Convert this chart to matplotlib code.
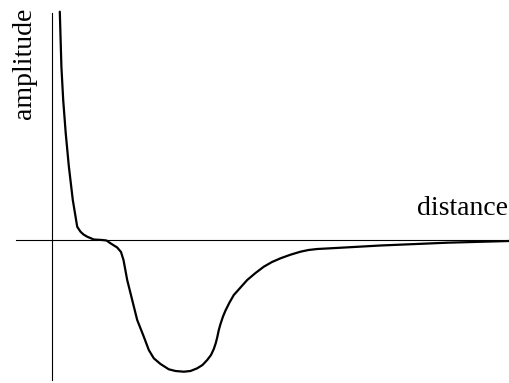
import matplotlib.pyplot as plt

# curve (distance, amplitude)
distance = [7.3, 8.9, 10.7, 13.2, 16.3, 20.3, 24.7, 26.5, 28.0, 31.0, 34.7, 41.3,
            49.7, 54.0, 58.0, 64.7, 68.5, 71.0, 74.7, 79.7, 84.7, 91.3, 96.3, 101.3,
            108.0, 116.3, 123.0, 131.3, 138.0, 144.7, 150.0, 154.7, 158.5, 161.3,
            163.3, 164.7, 166.3, 168.0, 170.5, 173.0, 177.0, 181.3, 188.0, 194.7,
            203.0, 211.3, 219.5, 228.0, 238.0, 248.0, 256.0, 264.7, 278.0, 328.0,
            394.7, 457.0]
amplitude = [228.3, 173.3, 140.0, 107.0, 74.0, 40.0, 13.3, 10.5, 8.3, 5.5, 3.3, 0.5,
             0.0, -0.5, -3.3, -7.5, -12.0, -20.0, -40.0, -60.0, -80.0, -96.7, -110.0, -118.3,
             -124.0, -129.3, -131.0, -131.7, -131.0, -128.3, -125.0, -120.0, -115.0, -109.0,
             -103.0, -97.5, -90.0, -84.0, -76.5, -70.5, -62.5, -55.0, -47.5, -40.0,
             -33.0, -26.7, -22.0, -18.3, -14.7, -11.7, -10.0, -9.0, -8.3, -5.5,
             -2.7, -1.0]

plt.rcParams['font.family'] = ['Liberation Serif', 'DejaVu Serif']

fig = plt.figure(figsize=(5.09, 3.83), dpi=100)
ax = fig.add_axes([0, 0, 1, 1])
ax.set_xlim(-52.5, 456.5)
ax.set_ylim(-143, 240)
ax.axis('off')

# axes drawn by hand
ax.plot([-37, 457], [0, 0], color='black', lw=0.8)
ax.plot([0, 0], [-140, 227], color='black', lw=0.8)

ax.plot(distance, amplitude, color='black', lw=1.6,
        solid_joinstyle='round', solid_capstyle='round')

ax.text(-28, 177, 'amplitude', rotation=90, ha='center', va='center', fontsize=20)
ax.text(456, 25, 'distance', ha='right', va='baseline', fontsize=20)

fig.savefig('out.png', dpi=100)
